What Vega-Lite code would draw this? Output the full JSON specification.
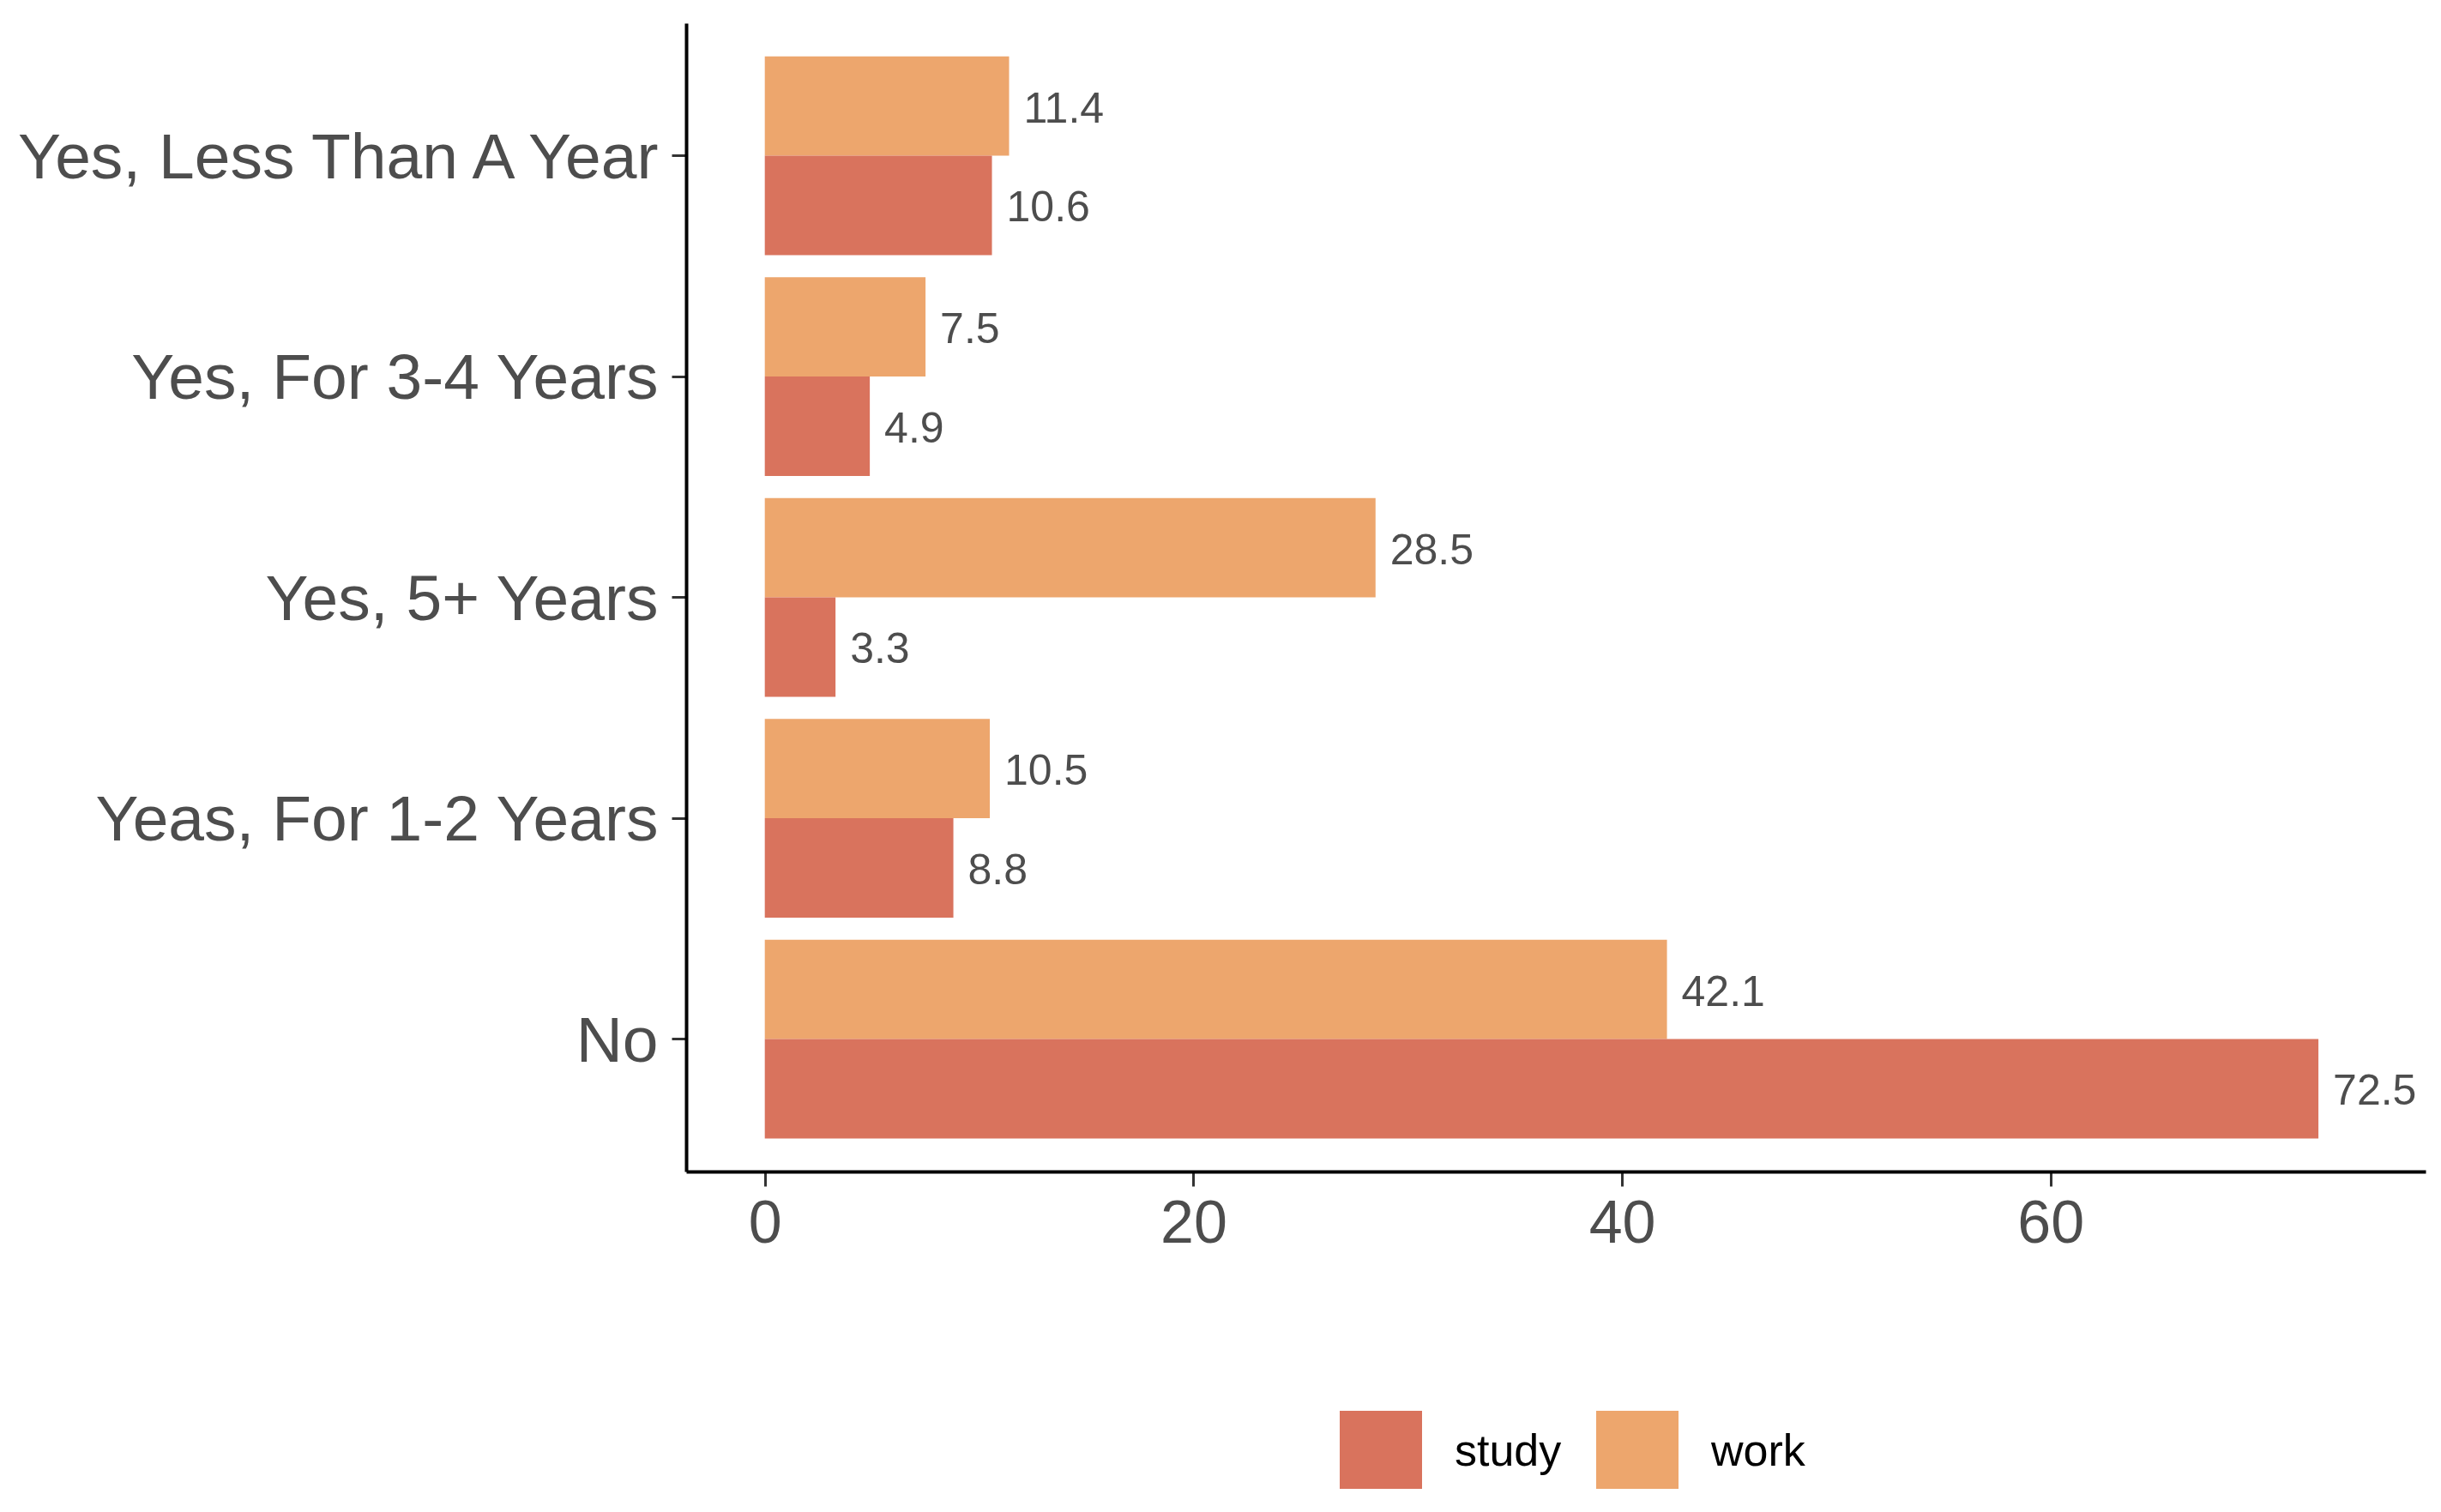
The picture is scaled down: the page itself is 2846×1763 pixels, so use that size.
{
  "$schema": "https://vega.github.io/schema/vega-lite/v6.json",
  "autosize": "none",
  "padding": {"left": 800, "top": 27, "right": 18, "bottom": 370},
  "width": 2028,
  "height": 1339,
  "background": "white",
  "config": {
    "view": {"stroke": null},
    "font": "Liberation Sans",
    "axis": {"grid": false}
  },
  "data": {
    "values": [
      {"category": "Yes, Less Than A Year", "type": "work", "value": 11.4},
      {"category": "Yes, Less Than A Year", "type": "study", "value": 10.6},
      {"category": "Yes, For 3-4 Years", "type": "work", "value": 7.5},
      {"category": "Yes, For 3-4 Years", "type": "study", "value": 4.9},
      {"category": "Yes, 5+ Years", "type": "work", "value": 28.5},
      {"category": "Yes, 5+ Years", "type": "study", "value": 3.3},
      {"category": "Yeas, For 1-2 Years", "type": "work", "value": 10.5},
      {"category": "Yeas, For 1-2 Years", "type": "study", "value": 8.8},
      {"category": "No", "type": "work", "value": 42.1},
      {"category": "No", "type": "study", "value": 72.5}
    ]
  },
  "encoding": {
    "y": {
      "field": "category",
      "type": "nominal",
      "sort": ["Yes, Less Than A Year", "Yes, For 3-4 Years", "Yes, 5+ Years", "Yeas, For 1-2 Years", "No"],
      "scale": {"paddingInner": 0.1, "paddingOuter": 0.15},
      "axis": {
        "title": null,
        "domainColor": "black",
        "domainWidth": 4,
        "tickColor": "#333333",
        "tickWidth": 3,
        "tickSize": 17,
        "labelPadding": 16,
        "labelFontSize": 75,
        "labelColor": "#4D4D4D",
        "labelFont": "Liberation Sans",
        "labelLimit": 0,
        "labelBaseline": "middle",
        "labelOffset": 3
      }
    },
    "yOffset": {
      "field": "type",
      "type": "nominal",
      "sort": ["work", "study"],
      "scale": {"paddingInner": 0, "paddingOuter": 0}
    },
    "x": {
      "field": "value",
      "type": "quantitative",
      "scale": {"domain": [-3.67, 77.5], "nice": false},
      "axis": {
        "title": null,
        "values": [0, 20, 40, 60],
        "domainColor": "black",
        "domainWidth": 4,
        "tickColor": "#333333",
        "tickWidth": 3,
        "tickSize": 17,
        "labelPadding": 10,
        "labelFontSize": 70,
        "labelColor": "#4D4D4D",
        "labelFont": "Liberation Sans"
      }
    }
  },
  "layer": [
    {
      "mark": {"type": "bar"},
      "encoding": {
        "color": {
          "field": "type",
          "type": "nominal",
          "scale": {"domain": ["study", "work"], "range": ["#D9735D", "#EDA66D"]},
          "legend": {
            "title": null,
            "orient": "none",
            "direction": "horizontal",
            "legendX": 762,
            "legendY": 1618,
            "padding": 0,
            "symbolType": "square",
            "symbolSize": 9216,
            "symbolStrokeWidth": 0,
            "labelFontSize": 52,
            "labelColor": "black",
            "labelFont": "Liberation Sans",
            "labelOffset": 38,
            "columnPadding": 40
          }
        }
      }
    },
    {
      "mark": {"type": "text", "align": "left", "baseline": "middle", "dx": 17, "dy": 4, "fontSize": 50, "color": "#4D4D4D", "font": "Liberation Sans"},
      "encoding": {
        "text": {"field": "value", "type": "quantitative", "format": ".1f"}
      }
    }
  ]
}
